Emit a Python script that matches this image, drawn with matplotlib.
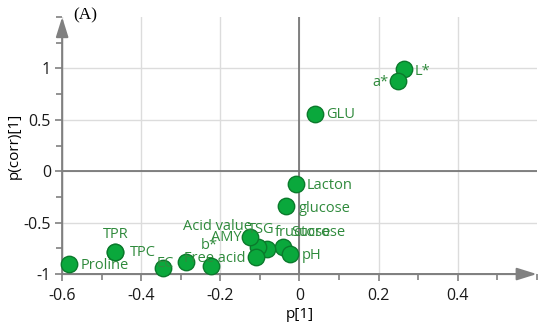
import matplotlib.pyplot as plt
from matplotlib.ticker import MultipleLocator

# loadings, p[1] vs p(corr)[1]
names = ['L*', 'a*', 'GLU', 'Lacton', 'glucose', 'Sucrose', 'fructose', 'pH',
         'TSG', 'Acid value', 'AMY', 'b*', 'Free acid', 'EC', 'TPC', 'TPR', 'Proline']
p1 = [0.263, 0.250, 0.040, -0.010, -0.033, -0.041, -0.081, -0.023,
      -0.104, -0.124, -0.111, -0.223, -0.286, -0.344, -0.466, -0.466, -0.582]
pcorr = [0.99, 0.874, 0.553, -0.126, -0.34, -0.738, -0.757, -0.806,
         -0.738, -0.641, -0.835, -0.922, -0.883, -0.942, -0.786, -0.786, -0.903]

xticks = [-0.6, -0.4, -0.2, 0, 0.2, 0.4]
yticks = [-1, -0.5, 0, 0.5, 1]

# label placement (pixel offset from marker, horizontal alignment)
label_style = {
    'L*': (11, -2, 'left'), 'a*': (-10, -1, 'right'), 'GLU': (11, 0, 'left'),
    'Lacton': (11, -1, 'left'), 'glucose': (12, -2, 'left'),
    'Sucrose': (8, 15, 'left'), 'fructose': (7, 17, 'left'), 'pH': (11, -1, 'left'),
    'TSG': (-10, 18, 'left'), 'Acid value': (2, 11, 'right'), 'AMY': (-14, 20, 'right'),
    'b*': (-2, 21, 'center'), 'Free acid': (-2, 4, 'left'), 'EC': (2, 5, 'center'),
    'TPC': (15, 0, 'left'), 'TPR': (1, 18, 'center'), 'Proline': (11, -1, 'left'),
}

plt.rcParams['font.family'] = ['Open Sans', 'DejaVu Sans']
green_txt = '#2f8a3c'

fig = plt.figure(figsize=(5.5, 3.33), dpi=100)
ax = fig.add_axes([0.113, 0.177, 0.863, 0.772])
ax.set_xlim(-0.6, 0.6)
ax.set_ylim(-1, 1.5)

ax.set_xticks(xticks)
ax.set_yticks(yticks)
ax.set_xticklabels(['-0.6', '-0.4', '-0.2', '0', '0.2', '0.4'])
ax.set_yticklabels(['-1', '-0.5', '0', '0.5', '1'])
ax.xaxis.set_minor_locator(MultipleLocator(0.1))
ax.yaxis.set_minor_locator(MultipleLocator(0.25))
ax.tick_params(which='both', direction='out', color='#808080', width=1.2, labelsize=11.5,
               labelcolor='#1a1a1a')
ax.tick_params(which='major', length=5)
ax.tick_params(which='minor', length=4)
ax.tick_params(axis='x', pad=5)
ax.tick_params(axis='y', pad=3)

ax.grid(True, which='major', color='#dcdcdc', lw=1)
ax.set_axisbelow(True)
ax.axhline(0, color='#6e6e6e', lw=1.2, zorder=1)
ax.axvline(0, color='#6e6e6e', lw=1.2, zorder=1)

for s in ['top', 'right', 'left', 'bottom']:
    ax.spines[s].set_visible(False)
arrow = dict(arrowstyle='-|>,head_length=0.8,head_width=0.25', color='#808080',
             lw=1.5, mutation_scale=15, shrinkA=0, shrinkB=0)
ax.annotate('', xy=(0, 1), xytext=(0, 0), xycoords='axes fraction', arrowprops=arrow)
ax.annotate('', xy=(1, 0), xytext=(0, 0), xycoords='axes fraction', arrowprops=arrow)

ax.scatter(p1, pcorr, s=140, color='#0aa83c', edgecolor='#0b7a2c', linewidth=1,
           zorder=3, clip_on=False)
for n, x, y in zip(names, p1, pcorr):
    dx, dy, ha = label_style[n]
    ax.annotate(n, (x, y), xytext=(dx, dy), textcoords='offset pixels',
                ha=ha, va='center', fontsize=10.5, color=green_txt, zorder=4,
                annotation_clip=False)

ax.set_xlabel('p[1]', fontsize=11, labelpad=2)
ax.set_ylabel('p(corr)[1]', fontsize=11, labelpad=1)
fig.text(0.155, 0.955, '(A)', family='Liberation Serif', fontsize=12.5, ha='center',
         va='center')

fig.savefig('out.png', dpi=100)
